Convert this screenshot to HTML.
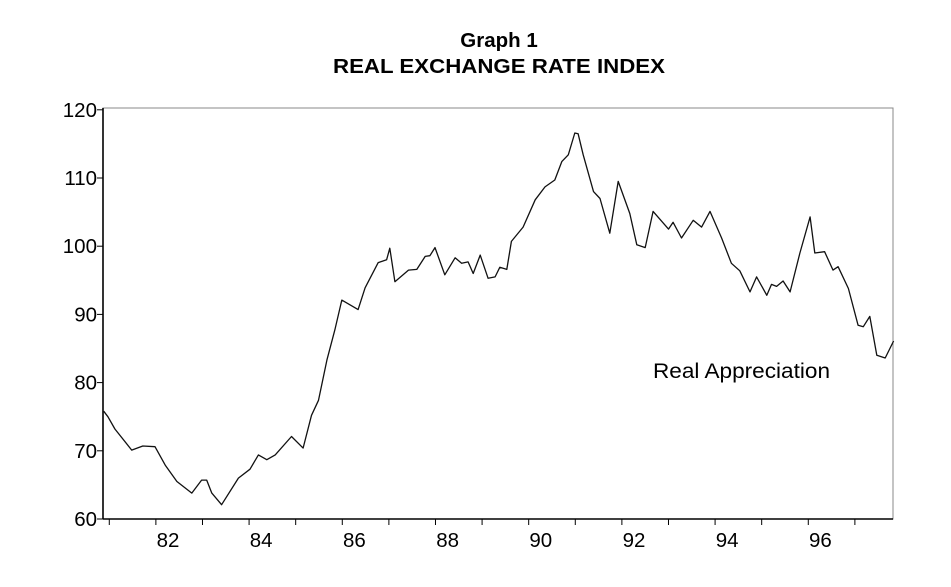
<!DOCTYPE html>
<html><head><meta charset="utf-8"><style>
body{margin:0;background:#fff;}
svg{display:block;font-family:"Liberation Sans",Arial,sans-serif;}
</style></head><body>
<svg id="chart" width="951" height="587" viewBox="0 0 951 587">
<text x="499" y="47" text-anchor="middle" font-size="20.5" font-weight="bold">Graph 1</text>
<text x="499" y="73" text-anchor="middle" font-size="20.5" font-weight="bold" textLength="332" lengthAdjust="spacingAndGlyphs">REAL EXCHANGE RATE INDEX</text>
<rect x="103" y="108" width="790" height="411" fill="none" stroke="#888" stroke-width="1"/>
<line x1="103" y1="108" x2="103" y2="519" stroke="#000" stroke-width="1.6"/>
<line x1="103" y1="519" x2="893" y2="519" stroke="#000" stroke-width="1.6"/>
<g id="yt"></g><g id="xt"></g>
<path id="line" fill="none" stroke="#111" stroke-width="1.3" stroke-linejoin="round"/>
<text x="653" y="378" font-size="21" textLength="177" lengthAdjust="spacingAndGlyphs">Real Appreciation</text>
</svg>
<script>
const years=[80.62,80.71,80.86,81.22,81.46,81.72,81.94,82.19,82.51,82.72,82.83,82.94,83.15,83.51,83.76,83.94,84.12,84.30,84.65,84.90,85.08,85.23,85.41,85.58,85.73,86.08,86.23,86.51,86.69,86.76,86.87,87.16,87.34,87.52,87.62,87.73,87.94,88.16,88.30,88.44,88.55,88.70,88.87,89.02,89.12,89.27,89.37,89.62,89.88,90.09,90.30,90.45,90.59,90.73,90.80,90.91,91.13,91.27,91.48,91.66,91.91,92.06,92.24,92.41,92.74,92.84,93.02,93.27,93.45,93.63,93.88,94.09,94.27,94.49,94.63,94.85,94.95,95.06,95.20,95.35,95.56,95.78,95.88,96.09,96.27,96.38,96.60,96.81,96.92,97.06,97.21,97.39,97.57];
const values=[75.8,75.0,73.2,70.1,70.7,70.6,67.9,65.5,63.8,65.7,65.7,63.8,62.1,66.0,67.3,69.4,68.7,69.4,72.1,70.4,75.2,77.4,83.3,87.7,92.1,90.7,93.9,97.6,98.0,99.7,94.8,96.5,96.6,98.5,98.6,99.8,95.8,98.3,97.5,97.7,96.0,98.7,95.3,95.5,96.9,96.6,100.7,102.8,106.8,108.7,109.7,112.4,113.4,116.6,116.5,113.4,108.0,107.0,101.9,109.5,104.8,100.2,99.8,105.1,102.5,103.5,101.2,103.8,102.8,105.1,101.2,97.5,96.4,93.3,95.5,92.8,94.4,94.1,94.9,93.3,99.0,104.3,99.0,99.2,96.5,97.0,93.8,88.4,88.2,89.7,84.0,83.6,86.1];
const yTicks=[60,70,80,90,100,110,120];
const xLabels=["82","84","86","88","90","92","94","96"];
const x=v=>168+(v-82)*46.6, y=v=>519-(v-60)*6.82;
const ns="http://www.w3.org/2000/svg";
const yt=document.getElementById('yt'), xt=document.getElementById('xt');
yTicks.forEach(t=>{
 const l=document.createElementNS(ns,'line');
 
 
 l.setAttribute('x1',97);l.setAttribute('x2',103);l.setAttribute('y1',y(t));l.setAttribute('y2',y(t));l.setAttribute('stroke','#000');
 yt.appendChild(l);
 const tx=document.createElementNS(ns,'text');
 
 
 tx.setAttribute('x',97);tx.setAttribute('y',y(t)+7);tx.setAttribute('text-anchor','end');tx.setAttribute('font-size','20.5');
 tx.textContent=t;yt.appendChild(tx);
});
for(let k=0;k<17;k++){
 const v=80.74+k;
 if(x(v)>893)break;
 const l=document.createElementNS(ns,'line');
 
 
 l.setAttribute('x1',x(v));l.setAttribute('x2',x(v));l.setAttribute('y1',519);l.setAttribute('y2',525);l.setAttribute('stroke','#000');
 xt.appendChild(l);
}
xLabels.forEach(s=>{
 const tx=document.createElementNS(ns,'text');
 
 
 tx.setAttribute('x',x(+s));tx.setAttribute('y',547);tx.setAttribute('text-anchor','middle');tx.setAttribute('font-size','20.5');
 tx.textContent=s;xt.appendChild(tx);
});
document.getElementById('line').setAttribute('d',years.map((v,i)=>(i?'L':'M')+x(v).toFixed(1)+','+y(values[i]).toFixed(1)).join(''));
</script>
</body></html>
